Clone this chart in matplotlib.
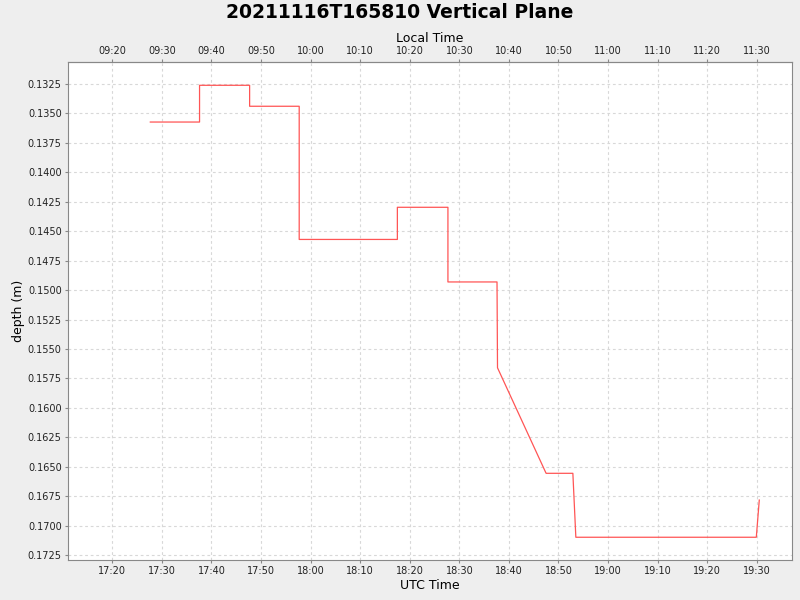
import pandas as pd
import matplotlib
matplotlib.use("Agg")
import matplotlib.pyplot as plt
import matplotlib.dates as mdates
from matplotlib.ticker import MultipleLocator, FormatStrFormatter

# depth readings (UTC)
times = ["17:27:40", "17:37:36", "17:37:36", "17:47:42", "17:47:42", "17:57:42",
         "17:57:42", "18:17:30", "18:17:30", "18:27:42", "18:27:42", "18:37:36",
         "18:37:42", "18:47:30", "18:52:54", "18:53:30", "19:29:54", "19:30:30"]
depth = [0.13573, 0.13573, 0.13261, 0.13261, 0.13439, 0.13439,
         0.14570, 0.14570, 0.14297, 0.14297, 0.14931, 0.14931,
         0.15660, 0.16556, 0.16556, 0.17099, 0.17099, 0.16783]
title = "20211116T165810 Vertical Plane"

t = pd.to_datetime(["2021-11-16 " + s for s in times])

fig = plt.figure(figsize=(8, 6), dpi=100, facecolor="#eeeeee")
ax = fig.add_axes([0.085, 0.0667, 0.905, 0.83])
ax.set_facecolor("white")

ax.plot(t, depth, color="#ff5555", lw=0.9)

ax.set_xlim(pd.Timestamp("2021-11-16 17:11:04"), pd.Timestamp("2021-11-16 19:37:06"))
ax.set_ylim(0.17292, 0.13063)

ax.xaxis.set_major_locator(mdates.MinuteLocator(byminute=range(0, 60, 10)))
ax.xaxis.set_major_formatter(mdates.DateFormatter("%H:%M"))
ax.yaxis.set_major_locator(MultipleLocator(0.0025))
ax.yaxis.set_major_formatter(FormatStrFormatter("%.4f"))

ax.grid(True, color="#d8d8d8", ls=(0, (2.5, 2.5)), lw=0.8)
for sp in ax.spines.values():
    sp.set_color("#888888")
ax.tick_params(colors="#888888", labelcolor="#222222", labelsize=7, length=2, width=0.8, pad=2.5)

sec = ax.secondary_xaxis("top", functions=(lambda x: x - 8 / 24, lambda x: x + 8 / 24))
sec.xaxis.set_major_locator(mdates.MinuteLocator(byminute=range(0, 60, 10)))
sec.xaxis.set_major_formatter(mdates.DateFormatter("%H:%M"))
sec.tick_params(colors="#888888", labelcolor="#222222", labelsize=7, length=2, width=0.8, pad=2)
sec.spines["top"].set_color("#888888")
sec.set_xlabel("Local Time", fontsize=9, labelpad=3)

ax.set_xlabel("UTC Time", fontsize=9, labelpad=2)
ax.set_ylabel("depth (m)", fontsize=9, va="center")
ax.yaxis.set_label_coords(-0.069, 0.5)

fig.suptitle(title, fontsize=13.5, fontweight="bold", y=0.995)

fig.savefig("out.png", dpi=100, facecolor=fig.get_facecolor())
